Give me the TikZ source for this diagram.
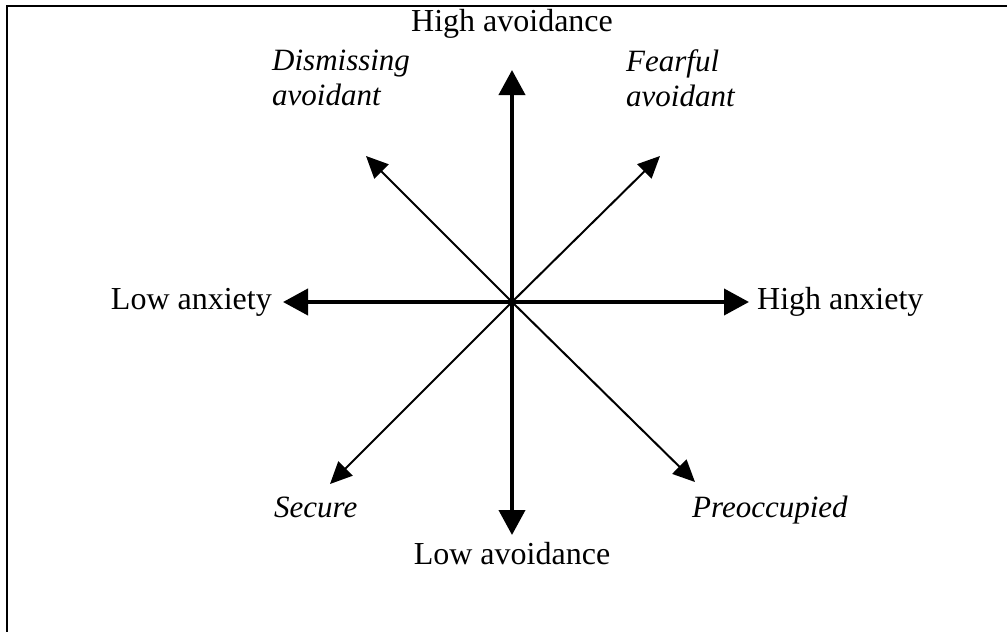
\documentclass[tikz,border=0pt]{standalone}
\usepackage{fontspec}
\setmainfont{Liberation Serif}
\usetikzlibrary{arrows.meta, positioning}

\begin{document}
\begin{tikzpicture}[x=1pt, y=-1pt, node distance=10pt,
    font=\fontsize{32}{36}\selectfont,
    axis/.style={line width=4pt, -{Triangle[length=25pt, width=26pt]}},
    diag/.style={line width=2pt, -{Triangle[length=22pt, width=20pt]}},
    lbl/.style={inner sep=0pt, align=left},
    style/.style={lbl, font=\fontsize{31}{35}\selectfont\itshape}]
\useasboundingbox (0,0) rectangle (1007,632);
\clip (0,0) rectangle (1007,632);
\draw[line width=2pt] (7,6) rectangle (1020,650);

% axes
\coordinate (o) at (512,302);
\coordinate (ha) at (512,70);
\coordinate (la) at (512,535);
\coordinate (lx) at (283,302);
\coordinate (hx) at (749,302);
% attachment styles
\coordinate (dis) at (366,156);
\coordinate (fea) at (660,156);
\coordinate (sec) at (330,484);
\coordinate (pre) at (695,482);

\node[lbl, above=31pt of ha] (hatext) {High avoidance};
\node[lbl, below=7pt of la] (latext) {Low avoidance};
\node[lbl, left=11pt of lx] (lxtext) {Low anxiety};
\node[lbl, right=8pt of hx] (hxtext) {High anxiety};
\node[style, anchor=west] (distext) at (272,78) {Dismissing\\avoidant};
\node[style, anchor=west] (featext) at (626,78) {Fearful\\avoidant};
\node[style, anchor=base west] (sectext) at (274,517) {Secure};
\node[style, anchor=base west] (pretext) at (692,517) {Preoccupied};

\draw[axis] (o) -- (ha);
\draw[axis] (o) -- (la);
\draw[axis] (o) -- (lx);
\draw[axis] (o) -- (hx);
\draw[diag] (o) -- (dis);
\draw[diag] (o) -- (fea);
\draw[diag] (o) -- (sec);
\draw[diag] (o) -- (pre);
\end{tikzpicture}
\end{document}
